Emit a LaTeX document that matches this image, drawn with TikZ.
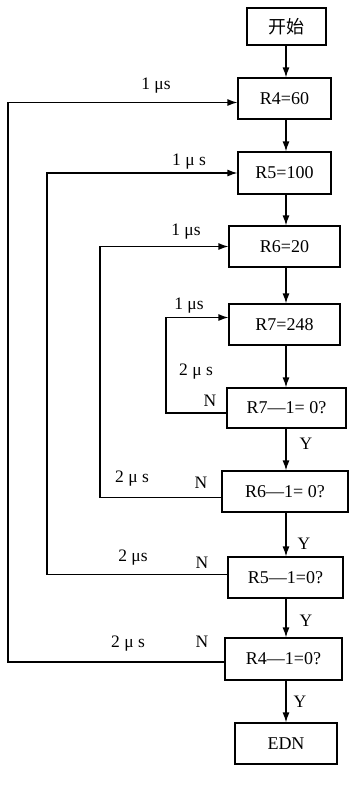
\documentclass[tikz,border=0pt]{standalone}
\usepackage{fontspec}
\setmainfont{Liberation Serif}
\newfontfamily\cjk{Noto Sans CJK SC}
\usetikzlibrary{arrows.meta}
\begin{document}
\begin{tikzpicture}[x=1pt,y=-1pt,
  box/.style={draw,line width=1.2pt,inner sep=0pt,font=\fontsize{18}{18}\selectfont},
  arr/.style={line width=1.2pt,-{Latex[length=10pt,width=7pt]}},
  lab/.style={inner sep=0pt,font=\fontsize{17.5}{17.5}\selectfont}]
\useasboundingbox (0,0) rectangle (350,788);
% boxes
\node[box,minimum width=79pt,minimum height=37pt] (start) at (286.5,26.5) {\cjk 开始};
\node[box,minimum width=93pt,minimum height=41pt] (r4) at (284.5,98.5) {R4=60};
\node[box,minimum width=93pt,minimum height=42pt] (r5) at (284.5,173) {R5=100};
\node[box,minimum width=111pt,minimum height=41pt] (r6) at (284.5,246.5) {R6=20};
\node[box,minimum width=111pt,minimum height=41pt] (r7) at (284.5,324.5) {R7=248};
\node[box,minimum width=119pt,minimum height=40pt] (q7) at (286.5,408) {R7—1= 0?};
\node[box,minimum width=126pt,minimum height=41pt] (q6) at (285,491.5) {R6—1= 0?};
\node[box,minimum width=115pt,minimum height=41pt] (q5) at (285.5,577.5) {R5—1=0?};
\node[box,minimum width=117pt,minimum height=42pt] (q4) at (283.5,659) {R4—1=0?};
\node[box,minimum width=102pt,minimum height=41pt] (end) at (286,743.5) {EDN};
% main flow
\coordinate (mx) at (286,0);
\draw[arr] (start.south -| mx) -- (r4.north -| mx);
\draw[arr] (r4.south -| mx) -- (r5.north -| mx);
\draw[arr] (r5.south -| mx) -- (r6.north -| mx);
\draw[arr] (r6.south -| mx) -- (r7.north -| mx);
\draw[arr] (r7.south -| mx) -- (q7.north -| mx);
\draw[arr] (q7.south -| mx) -- (q6.north -| mx);
\draw[arr] (q6.south -| mx) -- (q5.north -| mx);
\draw[arr] (q5.south -| mx) -- (q4.north -| mx);
\draw[arr] (q4.south -| mx) -- (end.north -| mx);
% loops
\coordinate (l4) at (8,0);
\coordinate (l5) at (47,0);
\coordinate (l6) at (100,0);
\coordinate (l7) at (166,0);
\draw[arr] ([yshift=-3pt]q4.west) -- ([yshift=-3pt]q4.west -| l4) -- ([yshift=-4pt]r4.west -| l4) -- ([yshift=-4pt]r4.west);
\draw[arr] ([yshift=3pt]q5.west) -- ([yshift=3pt]q5.west -| l5) -- (r5.west -| l5) -- (r5.west);
\draw[arr] ([yshift=-6pt]q6.west) -- ([yshift=-6pt]q6.west -| l6) -- (r6.west -| l6) -- (r6.west);
\draw[arr] ([yshift=-5pt]q7.west) -- ([yshift=-5pt]q7.west -| l7) -- ([yshift=7pt]r7.west -| l7) -- ([yshift=7pt]r7.west);
% labels
\node[lab] (t4a) at (156,86) {1 μs};
\node[lab] (t5a) at (189,162) {1 μ s};
\node[lab] (t6a) at (186,232) {1 μs};
\node[lab] (t7a) at (189,306) {1 μs};
\node[lab] (t7b) at (196,372) {2 μ s};
\node[lab] (t6b) at (132,479) {2 μ s};
\node[lab] (t5b) at (133,558) {2 μs};
\node[lab] (t4b) at (128,644) {2 μ s};
\node[lab] (n7) at (210,401) {N};
\node[lab] (n6) at (201,483) {N};
\node[lab] (n5) at (202,563) {N};
\node[lab] (n4) at (202,642) {N};
\node[lab] (y7) at (306,444) {Y};
\node[lab] (y6) at (304,544) {Y};
\node[lab] (y5) at (306,621) {Y};
\node[lab] (y4) at (300,702) {Y};
\end{tikzpicture}
\end{document}
